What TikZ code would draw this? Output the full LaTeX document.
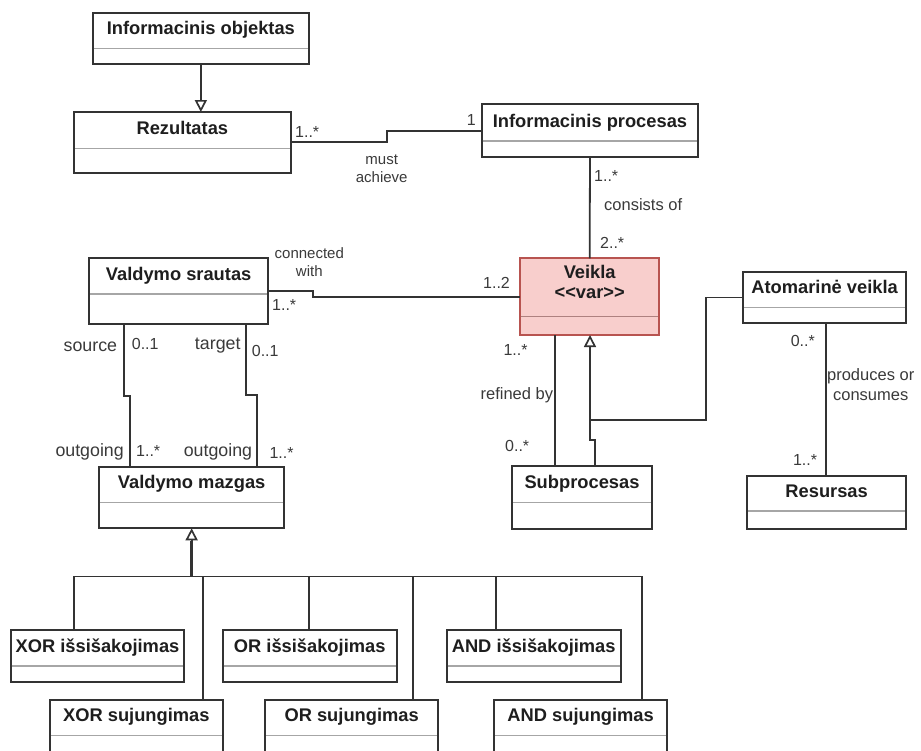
\documentclass[tikz,border=0pt]{standalone}
\usepackage{fontspec}
\setmainfont{Liberation Sans}[Ligatures=TeXOff]
\usetikzlibrary{arrows.meta,calc}

\definecolor{edge}{HTML}{333333}
\definecolor{sepgrey}{HTML}{A6A6A6}
\definecolor{ink}{HTML}{1E1E1E}
\definecolor{lab}{HTML}{3A3A3A}
\definecolor{vpink}{HTML}{F8CECC}
\definecolor{vred}{HTML}{B85450}

\tikzset{
  umlbox/.style={draw=edge, line width=1.8pt, fill=white, rectangle,
                 inner sep=0pt, outer sep=0pt, anchor=north west},
  sepline/.style={draw=sepgrey, line width=1.5pt},
  title/.style={font=\fontsize{18.3}{21}\selectfont\bfseries, text=ink,
                inner sep=0pt, anchor=base, align=center},
  assoc/.style={draw=edge, line width=1.8pt},
  gen/.style={assoc, -{Triangle[open, length=12pt, width=12pt, line width=1.7pt]}},
  mult/.style={font=\fontsize{16}{19}\selectfont, text=lab, inner sep=0pt},
  role/.style={font=\fontsize{17.8}{20}\selectfont, text=lab, inner sep=0pt},
  aname/.style={font=\fontsize{16.5}{20}\selectfont, text=lab, inner sep=0pt, align=center},
  small/.style={font=\fontsize{15}{18.5}\selectfont, text=lab, inner sep=0pt, align=center},
}

% class box: [style]{name}{x1}{y1}{x2}{y2}{separator y}{title}
\newcommand\umlclass[8][]{%
  \node[umlbox,#1,minimum width={#5-#3},minimum height={#6-#4}] (#2) at (#3,#4) {};
  \draw[sepline] ({#3+1},#7) -- ({#5-1},#7);
  \node[title] (#2-t) at ({(#3+#5)/2},{#7-14}) {#8};
}

\begin{document}
\begin{tikzpicture}[x=1pt,y=-1pt]
\useasboundingbox (0,0) rectangle (921,750);
\clip (0,0) rectangle (921,750);
\fill[white] (0,0) rectangle (921,750);

% ---- classes ----
\umlclass{io}{92.7}{12.7}{309}{64}{48.3}{Informacinis objektas}
\umlclass{rez}{74}{112}{290.7}{172.7}{148.7}{Rezultatas}
\umlclass{ip}{481.7}{104.3}{698.3}{157.3}{141}{Informacinis procesas}
\umlclass{vs}{89}{258.3}{268.3}{324}{294}{Valdymo srautas}
\umlclass{atom}{743.3}{272.3}{906}{322.7}{307.7}{Atomarinė veikla}
\umlclass{vm}{99}{466.7}{284.3}{528.3}{502.3}{Valdymo mazgas}
\umlclass{sub}{512.3}{466}{651.7}{529.3}{502.3}{Subprocesas}
\umlclass{res}{747.3}{475.7}{906}{529.3}{511}{Resursas}
\umlclass{xori}{10.7}{630}{184.3}{682.3}{666}{XOR išsišakojimas}
\umlclass{ori}{222.7}{630}{396.7}{682.3}{666}{OR išsišakojimas}
\umlclass{andi}{446.7}{630}{620.7}{682.3}{666}{AND išsišakojimas}
\umlclass{xors}{50}{700}{222.7}{775}{735.7}{XOR sujungimas}
\umlclass{ors}{265}{700}{438.3}{775}{735.7}{OR sujungimas}
\umlclass{ands}{494}{700}{667.3}{775}{735.7}{AND sujungimas}

% variable activity (highlighted)
\node[umlbox, fill=vpink, draw=vred, minimum width=139.3, minimum height=76.7]
  (veikla) at (520,258.3) {};
\draw[sepline, draw=vred!45!sepgrey] (521,316.7) -- (658.3,316.7);
\node[title] (veikla-t) at (589.7,298.3) {Veikla\\[-1.5pt]<<var>>};

% ---- bend points ----
\coordinate (ra) at (386.7,0);
\coordinate (src-a) at (124.3,396);
\coordinate (src-b) at (130,396);
\coordinate (tgt-a) at (246,395);
\coordinate (tgt-b) at (257.3,395);
\coordinate (rf) at (555,0);
\coordinate (g-a) at (595,440);
\coordinate (g-b) at (590,440);
\coordinate (at-a) at (705.7,420);
\coordinate (at-b) at (590,420);
\coordinate (ar) at (825.7,0);
\coordinate (bus-l) at (74,576.5);
\coordinate (bus-r) at (642.3,576.5);
\coordinate (b2) at (203.3,576.5);
\coordinate (b3) at (309.3,576.5);
\coordinate (b4) at (413.3,576.5);
\coordinate (b5) at (496,576.5);

% ---- connectors ----
\draw[gen] (io.south) -- (io.south |- rez.north);
\draw[assoc] (rez.east) -| (ra |- ip.west) -- (ip.west);
\draw[assoc] (ip.south) -- (veikla.north);
\draw[assoc] (vs.east) -- ++(45,0) |- (veikla.west);
\draw[assoc] (vs.south -| src-a) -- (src-a) -- (src-b) -- (src-b |- vm.north);
\draw[assoc] (vs.south -| tgt-a) -- (tgt-a) -- (tgt-b) -- (tgt-b |- vm.north);
\draw[assoc] (veikla.south -| rf) -- (sub.north -| rf);
\draw[gen] (sub.north -| g-a) -- (g-a) -- (g-b) -- (veikla.south -| g-b);
\draw[assoc] (atom.west) -| (at-a) -- (at-b);
\draw[assoc] (atom.south -| ar) -- (res.north -| ar);

% generalisation of the control nodes
\draw[gen] (vm.south |- bus-l) -- (vm.south);
\draw[draw=edge, line width=3pt] (vm.south |- bus-l) -- ([yshift=-13pt]vm.south);
\draw[assoc] (bus-l |- xori.north) -- (bus-l) -- (bus-r) -- (bus-r |- ands.north);
\draw[assoc] (b2) -- (b2 |- xors.north);
\draw[assoc] (b3) -- (b3 |- ori.north);
\draw[assoc] (b4) -- (b4 |- ors.north);
\draw[assoc] (b5) -- (b5 |- andi.north);

% ---- labels ----
\node[mult, anchor=base west] (m-rez) at (295,137.3) {1..*};
\node[mult, anchor=base east] (m-ip) at (476,125) {1};
\node[small, anchor=base] (l-must) at (381.7,182.7) {must\\achieve};

\node[mult, anchor=base west] (m-ip2) at (594,181.7) {1..*};
\node[aname, anchor=base west] (l-cons) at (604,210) {consists of};
\node[mult, anchor=base west] (m-v1) at (600,248.3) {2..*};

\node[small, anchor=base] (l-conn) at (309.3,276.7) {connected\\with};
\node[mult, anchor=base west] (m-vs) at (272,310) {1..*};
\node[mult, anchor=base west] (m-v2) at (483,288.3) {1..2};

\node[role, anchor=base east] (r-src) at (117.3,351) {source};
\node[mult, anchor=base west] (m-src) at (131.7,349.3) {0..1};
\node[role, anchor=base east] (r-tgt) at (240.7,349.3) {target};
\node[mult, anchor=base west] (m-tgt) at (251.7,356) {0..1};
\node[role, anchor=base east] (r-out1) at (124,456.7) {outgoing};
\node[mult, anchor=base west] (m-out1) at (136,456.7) {1..*};
\node[role, anchor=base east] (r-out2) at (252.3,456.7) {outgoing};
\node[mult, anchor=base west] (m-out2) at (269.3,458.3) {1..*};

\node[mult, anchor=base west] (m-rf1) at (503.3,355) {1..*};
\node[aname, anchor=base east] (l-ref) at (553.3,399) {refined by};
\node[mult, anchor=base west] (m-rf2) at (505,451.7) {0..*};

\node[mult, anchor=base east] (m-at) at (815,346.7) {0..*};
\node[aname, anchor=base] (l-prod) at (870.7,400) {produces or\\consumes};
\node[mult, anchor=base east] (m-res) at (817.3,465) {1..*};
\end{tikzpicture}
\end{document}
